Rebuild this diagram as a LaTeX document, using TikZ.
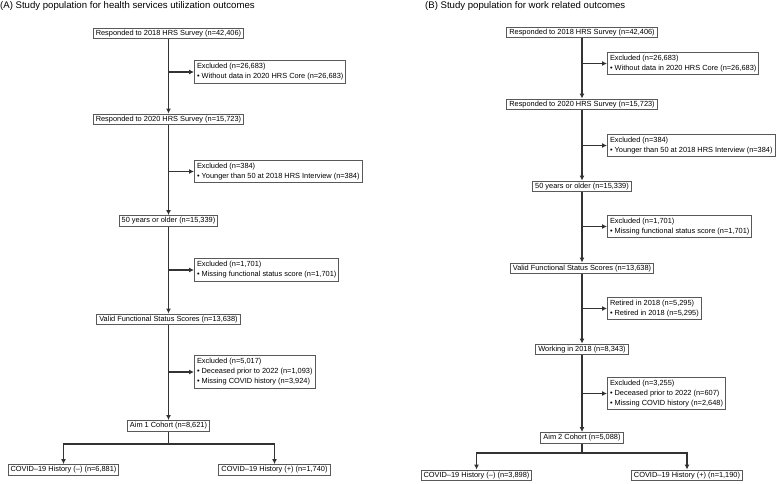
\documentclass[tikz,border=0pt]{standalone}
\usepackage{fontspec}
\setmainfont{Liberation Sans}
\usetikzlibrary{arrows.meta}
\tikzset{
  box/.style={draw=black!65,line width=1pt,fill=white,inner xsep=2.5pt,inner ysep=2pt,
    font=\fontsize{7.4}{10}\selectfont},
  exbox/.style={box,anchor=west,align=left,inner ysep=3pt},
  flow/.style={draw=black!80,line width=1.1pt,-{Latex[length=5pt,width=5pt]}},
  link/.style={draw=black!80,line width=1.1pt},
  panel/.style={anchor=west,inner sep=0pt,font=\fontsize{9.6}{11}\selectfont}
}
\begin{document}
\begin{tikzpicture}[x=1pt,y=-1pt]
\useasboundingbox (0,0) rectangle (778,483);

% (A) health services utilization
\node[panel] (titleA) at (0,6) {(A) Study population for health services utilization outcomes};
\node[box] (a1) at (168.5,33.5) {Responded to 2018 HRS Survey (n=42,406)};
\node[exbox] (exa1) at (194,72) {Excluded (n=26,683)\\\textbullet\ Without data in 2020 HRS Core (n=26,683)};
\node[box] (a2) at (168.5,119.5) {Responded to 2020 HRS Survey (n=15,723)};
\node[exbox] (exa2) at (194,171.5) {Excluded (n=384)\\\textbullet\ Younger than 50 at 2018 HRS Interview (n=384)};
\node[box] (a3) at (168.5,221) {50 years or older (n=15,339)};
\node[exbox] (exa3) at (194,270) {Excluded (n=1,701)\\\textbullet\ Missing functional status score (n=1,701)};
\node[box] (a4) at (168.5,319.5) {Valid Functional Status Scores (n=13,638)};
\node[exbox] (exa4) at (194,372) {Excluded (n=5,017)\\\textbullet\ Deceased prior to 2022 (n=1,093)\\\textbullet\ Missing COVID history (n=3,924)};
\node[box] (a5) at (168.5,426) {Aim 1 Cohort (n=8,621)};
\coordinate (splitA) at (168.5,444);
\node[box] (a6) at (63.5,470) {COVID--19 History (--) (n=6,881)};
\node[box] (a7) at (274.5,470) {COVID--19 History (+) (n=1,740)};

\draw[flow] (a1) -- (a2);
\draw[flow] (a2) -- (a3);
\draw[flow] (a3) -- (a4);
\draw[flow] (a4) -- (a5);
\draw[flow] (a1.south |- exa1.west) -- (exa1.west);
\draw[flow] (a2.south |- exa2.west) -- (exa2.west);
\draw[flow] (a3.south |- exa3.west) -- (exa3.west);
\draw[flow] (a4.south |- exa4.west) -- (exa4.west);
\draw[link] (a5) -- (splitA);
\draw[flow] (splitA) -| (a6);
\draw[flow] (splitA) -| (a7);

% (B) work related
\node[panel] (titleB) at (425,6) {(B) Study population for work related outcomes};
\node[box] (b1) at (582,32.5) {Responded to 2018 HRS Survey (n=42,406)};
\node[exbox] (exb1) at (607,63.5) {Excluded (n=26,683)\\\textbullet\ Without data in 2020 HRS Core (n=26,683)};
\node[box] (b2) at (582,104.5) {Responded to 2020 HRS Survey (n=15,723)};
\node[exbox] (exb2) at (607,145.5) {Excluded (n=384)\\\textbullet\ Younger than 50 at 2018 HRS Interview (n=384)};
\node[box] (b3) at (582,186.5) {50 years or older (n=15,339)};
\node[exbox] (exb3) at (607,226.5) {Excluded (n=1,701)\\\textbullet\ Missing functional status score (n=1,701)};
\node[box] (b4) at (582,268.5) {Valid Functional Status Scores (n=13,638)};
\node[exbox] (exb4) at (607,308.5) {Retired in 2018 (n=5,295)\\\textbullet\ Retired in 2018 (n=5,295)};
\node[box] (b5) at (582,349.5) {Working in 2018 (n=8,343)};
\node[exbox] (exb5) at (607,393.5) {Excluded (n=3,255)\\\textbullet\ Deceased prior to 2022 (n=607)\\\textbullet\ Missing COVID history (n=2,648)};
\node[box] (b6) at (582,438) {Aim 2 Cohort (n=5,088)};
\coordinate (splitB) at (582,453);
\node[box] (b7) at (476.5,475.5) {COVID--19 History (--) (n=3,898)};
\node[box] (b8) at (687,475.5) {COVID--19 History (+) (n=1,190)};

\draw[flow] (b1) -- (b2);
\draw[flow] (b2) -- (b3);
\draw[flow] (b3) -- (b4);
\draw[flow] (b4) -- (b5);
\draw[flow] (b5) -- (b6);
\draw[flow] (b1.south |- exb1.west) -- (exb1.west);
\draw[flow] (b2.south |- exb2.west) -- (exb2.west);
\draw[flow] (b3.south |- exb3.west) -- (exb3.west);
\draw[flow] (b4.south |- exb4.west) -- (exb4.west);
\draw[flow] (b5.south |- exb5.west) -- (exb5.west);
\draw[link] (b6) -- (splitB);
\draw[flow] (splitB) -| (b7);
\draw[flow] (splitB) -| (b8);
\end{tikzpicture}
\end{document}
